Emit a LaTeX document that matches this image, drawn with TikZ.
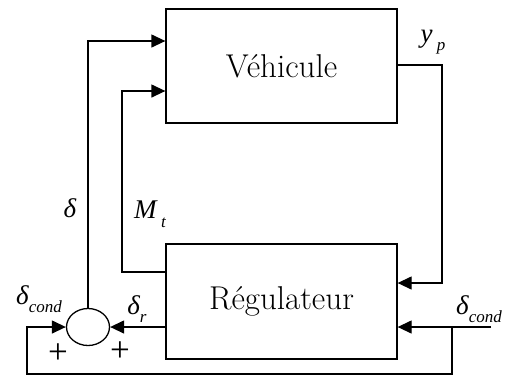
\documentclass[tikz,border=0pt]{standalone}
\usepackage{fontspec}
\newfontfamily\labfont{Liberation Serif}
\newcommand\lsub[1]{\raisebox{-0.32em}{\fontsize{17}{20}\selectfont #1}}
\usetikzlibrary{arrows.meta,shapes.geometric}
\begin{document}
\begin{tikzpicture}[x=1pt,y=-1pt,
  line width=1.3pt,
  blk/.style={draw,rectangle,minimum width=231pt,inner sep=0pt,font=\fontsize{33}{38}\selectfont},
  sumnode/.style={draw,ellipse,minimum width=43pt,minimum height=37pt,inner sep=0pt},
  arr/.style={-{Triangle[length=14pt,width=13pt]}},
  lbl/.style={font=\labfont\itshape\fontsize{27}{32}\selectfont,inner sep=0pt},
  pls/.style={font=\labfont\fontsize{35}{40}\selectfont,inner sep=0pt}]
\useasboundingbox (0,0) rectangle (508,376);
\node[blk,minimum height=114pt] (veh) at (281.5,66) {Véhicule};
\node[blk,minimum height=115pt] (reg) at (281.5,301.5) {Régulateur};
\node[sumnode] (sum) at (88,327) {};
\coordinate (mt) at (122,91);
\coordinate (c1) at (442,283);
\coordinate (din) at (491,327);
\coordinate (br) at (452,327);
\coordinate (fb1) at (452,374);
\coordinate (fb2) at (27,327);
\coordinate (dtop) at (88,41);
% delta to vehicle
\draw[arr] (sum.north) -- (dtop) -- (veh.west |- dtop);
% M_t
\draw[arr] (reg.west |- 0,272) -| (mt) -- (veh.west |- mt);
% y_p
\draw[arr] (veh.east |- 0,65) -| (c1) -- (reg.east |- c1);
% delta_r
\draw[arr] (reg.west |- sum) -- (sum.east);
% delta_cond input
\draw[arr] (din) -- (reg.east |- din);
% feedback loop
\draw[arr] (br) -- (fb1) -| (fb2) -- (sum.west);
% labels
\node[lbl] (lyp) at (433,42) {y\,\lsub{p}};
\node[lbl] (ld) at (70,208) {δ};
\node[lbl] (lmt) at (150,214) {M\,\lsub{t}};
\node[lbl] (ldc1) at (39,299) {δ\lsub{cond}};
\node[lbl] (ldr) at (137,309) {δ\lsub{r}};
\node[pls] (lp1) at (58,354) {+};
\node[pls] (lp2) at (120,352) {+};
\node[lbl] (ldc2) at (479,309) {δ\lsub{cond}};
\end{tikzpicture}
\end{document}
